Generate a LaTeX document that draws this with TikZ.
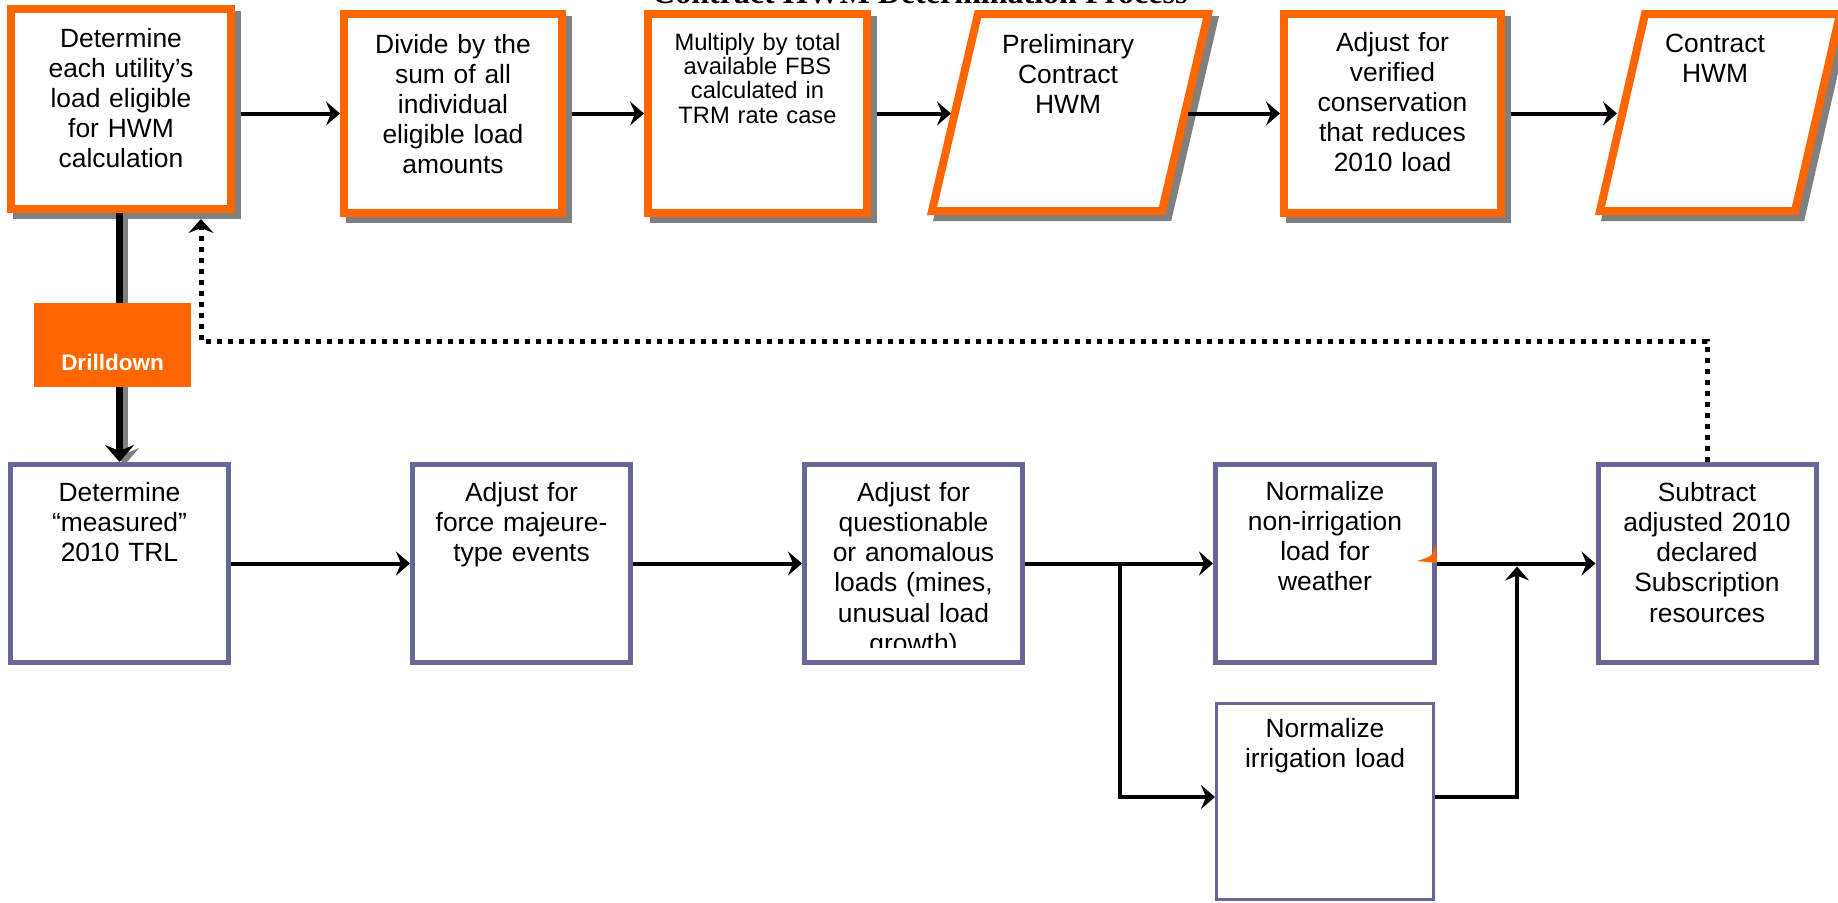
\documentclass[tikz,border=0pt]{standalone}
\usepackage{fontspec}
\setmainfont{Liberation Sans}
\newfontfamily\headserif{Liberation Serif}
\usetikzlibrary{arrows.meta}
\pgfdeclarelayer{shadowlayer}
\pgfsetlayers{shadowlayer,main}
\definecolor{hwmorange}{HTML}{FF6600}
\definecolor{trlpurple}{HTML}{666699}
\definecolor{dropgray}{HTML}{808080}

\tikzset{
  hwmbox/.style={draw=hwmorange, fill=white, line width=8pt, inner sep=0pt,
    minimum height=199pt},
  trlbox/.style={draw=trlpurple, fill=white, line width=5pt, inner sep=0pt,
    minimum width=218pt, minimum height=198pt},
  hwmframe/.style={draw=hwmorange, fill=white, line width=8pt, line join=miter},
  boxtext/.style={anchor=base, text width=212pt, align=center, inner sep=0pt,
    font=\fontsize{26.4}{30.2}\selectfont},
  widetext/.style={boxtext, font=\fontsize{26.4}{30.3}\selectfont},
  flow/.style={draw, line width=4pt, -{Stealth[length=14pt,width=24pt,inset=5pt]}},
  drillflow/.style={draw, line width=7pt, -{Stealth[length=17pt,width=29pt,inset=6pt]}},
  feedback/.style={draw, line width=5pt, dash pattern=on 5pt off 6pt,
    -{Stealth[length=14pt,width=25pt,inset=5pt]}},
}

\begin{document}
\begin{tikzpicture}[x=1pt, y=-1pt]
\path[use as bounding box] (0,0) rectangle (1838,902);
\clip (0,0) rectangle (1838,902);

% title, mostly above the page edge
\node[anchor=base west, inner sep=0pt, font={\headserif\bfseries\fontsize{32}{36}\selectfont}]
  (title) at (652,4) {Contract HWM Determination Process};

% ---------- upper row: contract HWM steps ----------
\node[hwmbox, minimum width=220pt, minimum height=200pt] (box1) at (121,109) {};
\node[hwmbox, minimum width=218pt] (box2) at (453,113.5) {};
\node[hwmbox, minimum width=219pt] (box3) at (757.5,113.5) {};
\node[hwmbox, minimum width=217pt] (box5) at (1392.5,113.5) {};

% parallelogram outputs
\coordinate (p1sw) at (932,211);  \coordinate (p1nw) at (978,14);
\coordinate (p1ne) at (1208,14);  \coordinate (p1se) at (1162,211);
\coordinate (p2sw) at (1600,211); \coordinate (p2nw) at (1645,14);
\coordinate (p2ne) at (1840,14);  \coordinate (p2se) at (1795,211);
\draw[hwmframe] (p1sw) -- (p1nw) -- (p1ne) -- (p1se) -- cycle;
\draw[hwmframe] (p2sw) -- (p2nw) -- (p2ne) -- (p2se) -- cycle;
\coordinate (p1w) at (951,113.5);
\coordinate (p1e) at (1188,113.5);
\coordinate (p2w) at (1617,113.5);

\node[boxtext] (t1) at (121,47) {Determine\\each utility’s\\load eligible\\for HWM\\calculation};
\node[boxtext] (t2) at (453,53) {Divide by the\\sum of all\\individual\\eligible load\\amounts};
\node[boxtext, font=\fontsize{23.7}{24.4}\selectfont] (t3) at (757.5,50)
  {Multiply by total\\available FBS\\calculated in\\TRM rate case};
\node[boxtext, font=\fontsize{26.4}{30}\selectfont] (tp1) at (1068,53.5) {Preliminary\\Contract\\HWM};
\node[boxtext, font=\fontsize{26.4}{30}\selectfont] (t5) at (1392.5,51)
  {Adjust for\\verified\\conservation\\that reduces\\2010 load};
\node[boxtext, font=\fontsize{26.4}{30}\selectfont] (tp2) at (1715,52) {Contract\\HWM};

% shadows behind the upper row
\begin{pgfonlayer}{shadowlayer}
  \foreach \n in {box1,box2,box3,box5}
    \fill[dropgray, transform canvas={xshift=6pt,yshift=-6pt}]
      (\n.north west) rectangle (\n.south east);
  \filldraw[dropgray, line width=8pt, transform canvas={xshift=6pt,yshift=-6pt}]
    (p1sw) -- (p1nw) -- (p1ne) -- (p1se) -- cycle;
  \filldraw[dropgray, line width=8pt, transform canvas={xshift=6pt,yshift=-6pt}]
    (p2sw) -- (p2nw) -- (p2ne) -- (p2se) -- cycle;
\end{pgfonlayer}

\draw[flow, shorten <=6pt] (box1.east |- box2.west) -- (box2.west);
\draw[flow, shorten <=6pt] (box2.east) -- (box3.west);
\draw[flow, shorten <=6pt] (box3.east) -- (p1w);
\draw[flow] (p1e) -- (box5.west);
\draw[flow, shorten <=6pt] (box5.east) -- (p2w);

% ---------- lower row: TRL adjustments ----------
\node[trlbox] (b1) at (119.5,563.5) {};
\node[trlbox] (b2) at (521.5,563.5) {};
\node[trlbox] (b3) at (913.5,563.5) {};
\node[trlbox, minimum width=219pt] (b4) at (1325,563.5) {};
\node[trlbox] (b5) at (1707,563.5) {};
\node[trlbox, line width=3pt, minimum width=217pt, minimum height=196pt] (b6) at (1325,801.5) {};

\node[widetext] (tb1) at (119.5,501) {Determine\\“measured”\\2010 TRL};
\node[widetext] (tb2) at (521.5,501) {Adjust for\\force majeure-\\type events};
\begin{scope}
  \clip (802,462) rectangle (1025,647);
  \node[widetext] (tb3) at (913.5,501)
    {Adjust for\\questionable\\or anomalous\\loads (mines,\\unusual load\\growth)};
\end{scope}
\node[widetext] (tb4) at (1325,500) {Normalize\\non-irrigation\\load for\\weather};
\node[widetext] (tb5) at (1707,501) {Subtract\\adjusted 2010\\declared\\Subscription\\resources};
\node[widetext] (tb6) at (1325,737) {Normalize\\irrigation load};

\draw[flow] (b1.east) -- (b2.west);
\draw[flow] (b2.east) -- (b3.west);
\draw[flow] (b3.east) -- (b4.west);
\coordinate (split) at (1120,563.5);
\draw[flow] (split) |- ([yshift=4.5pt]b6.west);
\coordinate (merge) at (1517,563.5);
\draw[flow, shorten >=3pt] ([yshift=4.5pt]b6.east) -| (merge);
\draw[flow] (b4.east) -- (b5.west);

% small orange mark on the weather box
\fill[hwmorange] (1436,543) .. controls (1433,556) .. (1417,561) -- (1437,563) -- cycle;

% drilldown link from the upper row to the lower row
\begin{pgfonlayer}{shadowlayer}
  \draw[drillflow, dropgray, transform canvas={xshift=5pt,yshift=-3pt}]
    (box1.south -| b1.north) -- (b1.north);
\end{pgfonlayer}
\draw[drillflow] (box1.south -| b1.north) -- (b1.north);
\node[fill=hwmorange, inner sep=0pt, minimum width=157pt, minimum height=84pt] (drill) at (112.5,345) {};
\node[anchor=base, inner sep=0pt, text=white, font={\bfseries\fontsize{22.5}{26}\selectfont}]
  (drilltext) at (112.5,370) {Drilldown};

% feedback from the subtraction step to the first step
\coordinate (fbturn) at (201,341);
\draw[feedback, shorten >=6pt] (b5.north) |- (fbturn) -- (fbturn |- box1.south);

\end{tikzpicture}
\end{document}
